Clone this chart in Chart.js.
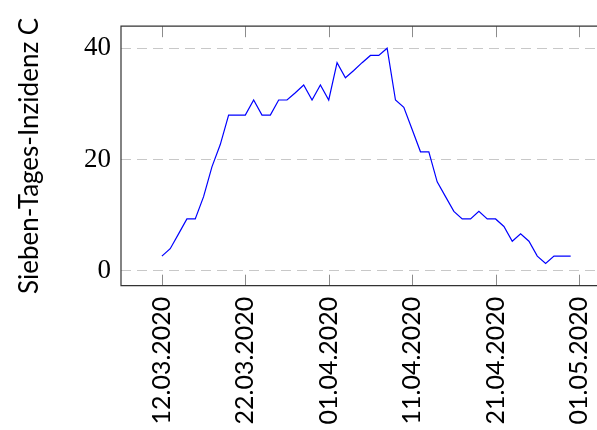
<!DOCTYPE html>
<html>
<head>
<meta charset="utf-8">
<script src="https://cdn.jsdelivr.net/npm/chart.js@4/dist/chart.umd.min.js"></script>
<style>
html,body{margin:0;padding:0;background:#fff;overflow:hidden;width:597px;height:430px;}
#wrap{position:absolute;left:0;top:0;width:620px;height:430px;}
</style>
</head>
<body>
<div id="wrap"><canvas id="c" width="620" height="430"></canvas></div>
<script>
// Days since 12.03.2020 (one value per day, 12.03.2020 .. 30.04.2020)
const dayIndex = [0,1,2,3,4,5,6,7,8,9,10,11,12,13,14,15,16,17,18,19,20,21,22,23,24,25,26,27,28,29,30,31,32,33,34,35,36,37,38,39,40,41,42,43,44,45,46,47,48,49];
const incidence = [2.67,4.0,6.67,9.34,9.34,13.35,18.7,22.7,28.0,28.0,28.0,30.7,28.0,28.0,30.7,30.7,32.0,33.4,30.7,33.4,30.7,37.4,34.7,36.0,37.4,38.7,38.7,40.0,30.7,29.4,25.4,21.4,21.4,16.0,13.35,10.7,9.34,9.34,10.7,9.34,9.34,8.0,5.34,6.67,5.34,2.67,1.34,2.67,2.67,2.67];
const xTickValues = [0,10,20,30,40,50];
const xTickLabels = ["12.03.2020","22.03.2020","01.04.2020","11.04.2020","21.04.2020","01.05.2020"];
const yTickValues = [0,20,40];
const yTitle = "Sieben-Tages-Inzidenz C";

const points = dayIndex.map((d,i)=>({x:d,y:incidence[i]}));

const framePlugin = {
  id:'frame',
  afterDraw(chart){
    const ctx = chart.ctx, a = chart.chartArea, xs = chart.scales.x;
    ctx.save();
    ctx.strokeStyle = '#8c8c8c';
    ctx.lineWidth = 1;
    xs.ticks.forEach(t=>{
      const px = Math.round(xs.getPixelForValue(t.value))+0.5;
      ctx.beginPath();
      ctx.moveTo(px,a.bottom); ctx.lineTo(px,a.bottom-11);
      ctx.moveTo(px,a.top); ctx.lineTo(px,a.top+11);
      ctx.stroke();
    });
    ctx.strokeStyle = '#333333';
    ctx.lineWidth = 1.2;
    ctx.beginPath();
    ctx.moveTo(a.right,a.top); ctx.lineTo(a.left,a.top); ctx.lineTo(a.left,a.bottom); ctx.lineTo(a.right,a.bottom);
    ctx.stroke();
    ctx.restore();
  }
};

new Chart(document.getElementById('c'),{
  type:'line',
  data:{datasets:[{data:points,borderColor:'#0000ff',borderWidth:1.2,pointRadius:0,fill:false,tension:0}]},
  options:{
    responsive:false,
    animation:false,
    layout:{padding:{top:26,left:0,right:0,bottom:0}},
    plugins:{legend:{display:false},tooltip:{enabled:false}},
    scales:{
      x:{
        type:'linear',min:-4.9,max:53.9,
        afterBuildTicks(s){ s.ticks = xTickValues.map(v=>({value:v})); },
        afterFit(s){ s.height = 144.3; },
        grid:{display:false,drawTicks:false},
        border:{display:false},
        ticks:{
          autoSkip:false,minRotation:90,maxRotation:90,padding:11,color:'#000',
          font:{family:'Lato',size:25},
          callback(v){ const i = xTickValues.indexOf(v); return i>=0 ? xTickLabels[i] : ''; }
        }
      },
      y:{
        min:-2.64,max:43.95,
        afterBuildTicks(s){ s.ticks = yTickValues.map(v=>({value:v})); },
        afterFit(s){ s.width = 121; },
        grid:{color:'#c8c8c8',lineWidth:1,drawTicks:false},
        border:{display:false,dash:[10,6]},
        ticks:{padding:10,color:'#000',font:{family:'Liberation Serif',size:27}},
        title:{display:true,text:yTitle,color:'#000',font:{family:'Lato',size:26},padding:{top:14,bottom:0}}
      }
    }
  },
  plugins:[framePlugin]
});
</script>
</body>
</html>
